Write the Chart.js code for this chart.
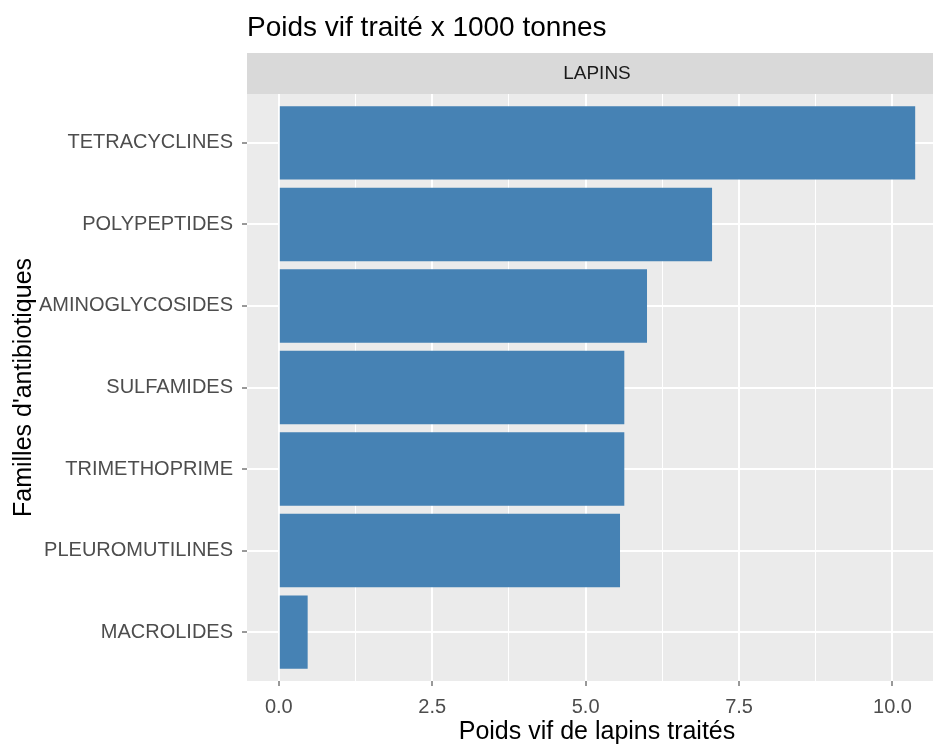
<!DOCTYPE html>
<html><head><meta charset="utf-8">
<script src="https://cdn.jsdelivr.net/npm/chart.js@4"></script>
<style>html,body{margin:0;padding:0;background:#fff;overflow:hidden;width:933px;height:744px}</style>
</head><body>
<canvas id="c" width="947" height="744"></canvas>
<script>
const categories = ["TETRACYCLINES","POLYPEPTIDES","AMINOGLYCOSIDES","SULFAMIDES","TRIMETHOPRIME","PLEUROMUTILINES","MACROLIDES"];
const values = [10.37, 7.06, 6.0, 5.63, 5.63, 5.56, 0.47];
const xTicks = [0, 1.25, 2.5, 3.75, 5, 6.25, 7.5, 8.75, 10];
const xMajor = [0, 2.5, 5, 7.5, 10];
const chartTitle = "Poids vif traité x 1000 tonnes";
const stripLabel = "LAPINS";
const xTitle = "Poids vif de lapins traités";
const yTitle = "Familles d'antibiotiques";

const FONT = "'Liberation Sans', Arial, sans-serif";

const decor = {
  id: 'decor',
  beforeDraw(chart) {
    const {ctx, chartArea: a} = chart;
    ctx.save();
    ctx.fillStyle = '#EBEBEB';
    ctx.fillRect(a.left, a.top, a.right - a.left, a.bottom - a.top);
    ctx.fillStyle = '#D9D9D9';
    ctx.fillRect(a.left, 53, a.right - a.left, a.top - 53);
    ctx.fillStyle = '#1A1A1A';
    ctx.font = "19px " + FONT;
    ctx.textAlign = 'center';
    ctx.textBaseline = 'middle';
    ctx.fillText(stripLabel, (a.left + a.right) / 2, (53 + a.top) / 2);
    ctx.fillStyle = '#000000';
    ctx.font = "28px " + FONT;
    ctx.textAlign = 'left';
    ctx.textBaseline = 'alphabetic';
    ctx.fillText(chartTitle, a.left, 36);
    ctx.restore();
  }
};

new Chart(document.getElementById('c'), {
  type: 'bar',
  data: {
    datasets: [{
      data: values.map((v, i) => ({x: v, y: i})),
      backgroundColor: '#4682B4',
      borderWidth: 0,
      barPercentage: 0.9,
      categoryPercentage: 1.0
    }]
  },
  options: {
    indexAxis: 'y',
    responsive: false,
    animation: false,
    layout: {padding: {top: 94, right: 0, bottom: 0, left: 0}},
    plugins: {legend: {display: false}, tooltip: {enabled: false}, title: {display: false}},
    scales: {
      x: {
        type: 'linear',
        min: -0.5185, max: 10.8885,
        offset: false,
        afterBuildTicks: s => { s.ticks = xTicks.map(v => ({value: v})); },
        afterFit: s => { s.height = 63; },
        border: {display: false},
        grid: {
          offset: false,
          color: '#FFFFFF',
          lineWidth: c => (c.tick && xMajor.includes(c.tick.value)) ? 2 : 1,
          tickColor: c => (c.tick && xMajor.includes(c.tick.value)) ? '#333333' : 'rgba(0,0,0,0)',
          tickLength: 5,
          tickWidth: 1
        },
        ticks: {
          autoSkip: false, maxRotation: 0,
          color: '#4D4D4D',
          font: {family: FONT, size: 20},
          padding: 9,
          callback: v => xMajor.includes(v) ? v.toFixed(1) : ''
        },
        title: {display: true, text: xTitle, color: '#000000', font: {family: FONT, size: 25}, padding: {top: 0, bottom: -3}}
      },
      y: {
        type: 'linear',
        reverse: true,
        min: -0.6, max: 6.6,
        offset: false,
        afterBuildTicks: s => { s.ticks = categories.map((c, i) => ({value: i})); },
        afterFit: s => { s.width = 247; },
        border: {display: false},
        grid: {offset: false, color: '#FFFFFF', lineWidth: 2, tickColor: '#333333', tickLength: 5, tickWidth: 1},
        ticks: {
          autoSkip: false,
          color: '#4D4D4D',
          font: {family: FONT, size: 20},
          padding: 9,
          callback: v => categories[v]
        },
        title: {display: true, text: yTitle, color: '#000000', font: {family: FONT, size: 25}, padding: {top: 9, bottom: 0}}
      }
    }
  },
  plugins: [decor]
});
</script>
</body></html>
